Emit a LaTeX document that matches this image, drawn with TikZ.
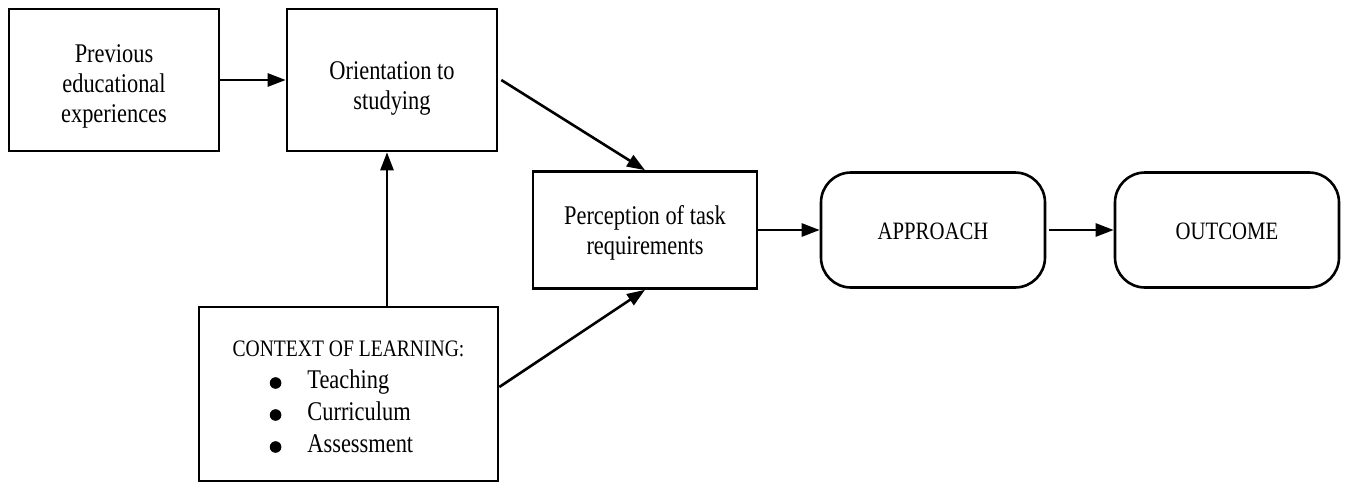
\documentclass[tikz,border=0pt]{standalone}
\usepackage{fontspec}
\setmainfont{Liberation Serif}[FakeStretch=0.83]
\usetikzlibrary{arrows.meta}
\newcommand{\bul}{\tikz[baseline=-2.7pt]\fill (0,0) circle (2.9pt);}
\newcommand{\dn}[2]{\raisebox{-#1}[\height][\depth]{\begin{tabular}{@{}c@{}}#2\end{tabular}}}
\tikzset{
  box/.style={draw, line width=1.3pt, rectangle, inner sep=0pt, align=center,
    font=\fontsize{13.5}{15}\selectfont},
  rbox/.style={box, rounded corners=15pt, font=\fontsize{12.5}{15}\selectfont},
  arr/.style={line width=1.3pt, -{Triangle[length=9pt,width=6.5pt]}}
}
\begin{document}
\begin{tikzpicture}[x=0.5pt, y=-0.5pt]
\useasboundingbox (0,0) rectangle (1345,483);
\node[box, minimum width=105pt, minimum height=71pt] (b1) at (114,80)
  {\dn{3pt}{Previous\\educational\\experiences}};
\node[box, minimum width=105pt, minimum height=71pt] (b2) at (392,80)
  {\dn{4pt}{Orientation to\\studying}};
\node[box, minimum width=112pt, minimum height=58.5pt] (b3) at (645,230)
  {\dn{1.5pt}{Perception of task\\requirements}};
\node[rbox, minimum width=112pt, minimum height=57.5pt] (b4) at (933,230) {\dn{1.5pt}{APPROACH}};
\node[rbox, minimum width=112pt, minimum height=57.5pt] (b5) at (1227,230) {\dn{1.5pt}{OUTCOME}};
\node[box, minimum width=149.5pt, minimum height=87pt, font=\fontsize{13.5}{16}\selectfont] (b6) at (348.5,394)
  {\raisebox{-2pt}[\height][\depth]{\begin{tabular}{@{}c@{}}
   {\fontsize{11.8}{16}\selectfont CONTEXT OF LEARNING:}\\
   \begin{tabular}{@{}l@{\hspace{13pt}}l@{}}
   \bul & Teaching\\
   \bul & Curriculum\\
   \bul & Assessment
   \end{tabular}\hspace{7pt}
   \end{tabular}}};
\coordinate (s1) at ([xshift=1.5pt]b2.east);
\coordinate (s2) at ([yshift=3.5pt]b6.east);
\coordinate (s3) at ([xshift=19.25pt]b6.north);
\coordinate (s4) at ([xshift=1.5pt]b4.east);
\draw[arr] (b1.east) -- (b2.west);
\draw[arr] (s1) -- (b3.north);
\draw[arr] (s2) -- (b3.south);
\draw[arr] (s3) -- (s3 |- b2.south);
\draw[arr] (b3.east) -- (b4.west);
\draw[arr] (s4) -- (b5.west);
\end{tikzpicture}
\end{document}
